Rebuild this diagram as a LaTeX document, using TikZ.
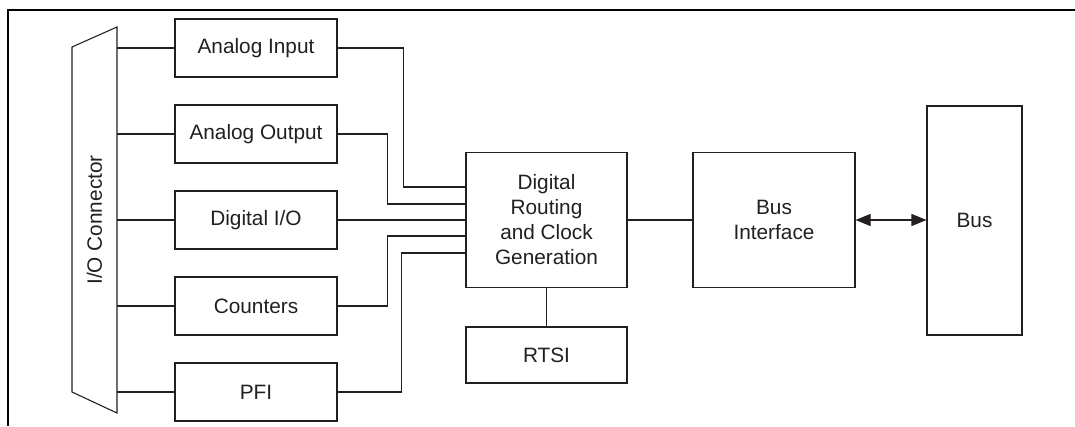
\documentclass[tikz,border=0pt]{standalone}
\usepackage{fontspec}
\setmainfont{Liberation Sans}
\usetikzlibrary{arrows.meta,calc}
\definecolor{ink}{HTML}{231F20}
\begin{document}
\begin{tikzpicture}[x=1pt,y=-1pt,
  blk/.style={draw=ink,line width=1.1pt,rectangle,inner sep=0pt,align=center,text=ink,
    font=\fontsize{20.8}{25}\selectfont},
  wire/.style={draw=ink,line width=1.1pt}]
\useasboundingbox (0,0) rectangle (1075,426);
% frame
\draw[line width=2.4pt] (7,10) -- (1075,10);
\draw[line width=2.4pt] (8,10) -- (8,426);
% I/O connector
\draw[ink,line width=1.1pt] (72,47) -- (117,27) -- (117,413) -- (72,392) -- cycle;
\node[rotate=90,text=ink,font=\fontsize{20.8}{25}\selectfont] (io) at (94.5,220) {I/O Connector};
\coordinate (cr) at (117,220);
% left boxes
\node[blk,minimum width=162pt,minimum height=58pt] (ai) at (256,48) {Analog Input};
\node[blk,minimum width=162pt,minimum height=58pt] (ao) at (256,134) {Analog Output};
\node[blk,minimum width=162pt,minimum height=58pt] (dio) at (256,220) {Digital I/O};
\node[blk,minimum width=162pt,minimum height=58pt] (cnt) at (256,306) {Counters};
\node[blk,minimum width=162pt,minimum height=58pt] (pfi) at (256,392) {PFI};
% center
\node[blk,minimum width=161pt,minimum height=135pt] (dr) at (546.5,220) {Digital\\Routing\\and Clock\\Generation};
\node[blk,minimum width=161pt,minimum height=56pt] (rtsi) at (546.5,355) {RTSI};
\node[blk,minimum width=162pt,minimum height=135pt] (bi) at (774,220) {Bus\\Interface};
\node[blk,minimum width=95pt,minimum height=229pt] (bus) at (974.5,220.5) {Bus};
% connector to boxes
\foreach \b in {ai,ao,dio,cnt,pfi}{
  \draw[wire] (\b.west) -- (\b.west -| cr);
}
% routing
\draw[wire] (ai.east) -| ($(dr.west)+(-62,-33)$) -- ($(dr.west)+(0,-33)$);
\draw[wire] (ao.east) -| ($(dr.west)+(-78,-16)$) -- ($(dr.west)+(0,-16)$);
\draw[wire] (dio.east) -- (dr.west);
\draw[wire] (cnt.east) -| ($(dr.west)+(-78,16)$) -- ($(dr.west)+(0,16)$);
\draw[wire] (pfi.east) -| ($(dr.west)+(-64,33)$) -- ($(dr.west)+(0,33)$);
\draw[wire] (dr.south) -- (rtsi.north);
\draw[wire] (dr.east) -- (bi.west);
\draw[wire,{Triangle[length=15pt,width=12pt]}-{Triangle[length=15pt,width=12pt]}] (bi.east) -- (bi.east -| bus.west);
\end{tikzpicture}
\end{document}
